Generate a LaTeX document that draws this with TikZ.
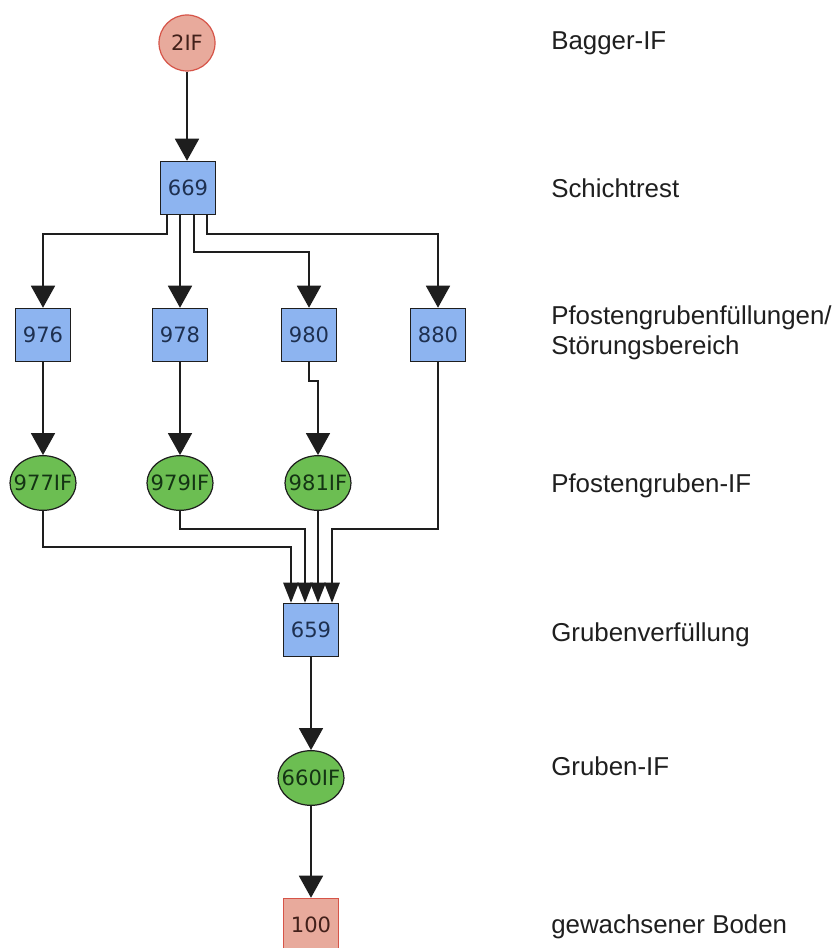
\documentclass[tikz,border=0pt]{standalone}
\usepackage{fontspec}
\setmainfont{Liberation Sans}
\newfontfamily\idfont{DejaVu Sans}
\usepackage{tikz}
\usetikzlibrary{calc,arrows.meta,positioning,shapes.geometric}
\definecolor{unitBlue}{RGB}{141,180,240}
\definecolor{unitBlueText}{RGB}{30,48,80}
\definecolor{ifGreen}{RGB}{108,190,82}
\definecolor{ifGreenText}{RGB}{20,52,20}
\definecolor{soilRed}{RGB}{232,170,156}
\definecolor{soilRedLine}{RGB}{214,84,72}
\definecolor{soilRedText}{RGB}{66,32,26}
\definecolor{edgeGray}{RGB}{30,30,30}
% keep wide ids from blowing up the ellipse size
\newcommand{\clapid}[1]{\makebox[0pt]{#1}}

\begin{document}
\begin{tikzpicture}[x=0.75pt,y=-0.75pt,
  unit/.style={draw=edgeGray, line width=0.9pt, fill=unitBlue, text=unitBlueText,
    minimum width=41.5pt, minimum height=40pt, inner sep=0pt,
    font={\idfont\fontsize{15.8}{17}\selectfont}},
  ifcut/.style={ellipse, draw=edgeGray, line width=0.9pt, fill=ifGreen, text=ifGreenText,
    minimum width=49.5pt, minimum height=41pt, inner sep=0pt,
    font={\idfont\fontsize{15.8}{17}\selectfont}},
  soil/.style={draw=soilRedLine, fill=soilRed, text=soilRedText},
  flow/.style={draw=edgeGray, line width=1.3pt, -{Triangle[width=18pt,length=16.5pt]}},
  merge/.style={flow, -{Triangle[width=11.5pt,length=15pt]}},
  layer/.style={anchor=base west, inner sep=0pt, text=black!88,
    font={\fontsize{19.4}{22.5}\selectfont}}]
\path[use as bounding box, fill=white] (0,0) rectangle (839,948);

% units
\node[unit, soil, circle, minimum size=42pt] (b2IF) at (187,43) {2IF};
\node[unit] (u669) at (188,188) {669};
\foreach \id/\x in {976/43,978/180,980/309,880/438}
{
\node[unit] (u\id) at (\x,335) {\id};
}
\node[ifcut] (f977) at (43,483) {\clapid{977IF}};
\node[ifcut] (f979) at (180,483) {\clapid{979IF}};
\node[ifcut] (f981) at (318,483) {\clapid{981IF}};
\node[unit] (u659) at (311,630) {659};
\node[ifcut] (f660) at (311,778) {\clapid{660IF}};
\node[unit, soil] (u100) at (311,925) {100};

% layer names
\node[layer] (lBagger) at (551,50) {Bagger-IF};
\node[layer] (lSchicht) at (551,198) {Schichtrest};
\node[layer, anchor=west, align=left] (lPfosten) at (551,333) {Pfostengrubenfüllungen/\\Störungsbereich};
\node[layer] (lPfIF) at (551,492) {Pfostengruben-IF};
\node[layer] (lVerf) at (551,641) {Grubenverfüllung};
\node[layer] (lGrIF) at (551,775) {Gruben-IF};
\node[layer] (lBoden) at (551,933) {gewachsener Boden};

% stratigraphic links
\draw[flow] (b2IF.south) -- (b2IF.south |- u669.north);
\draw[flow] ($(u669.south)+(-21,0)$) -- ++(0,19) -| (u976);
\draw[flow] ($(u669.south)+(-8,0)$) -- (u978);
\draw[flow] ($(u669.south)+(6,0)$) -- ++(0,37) -| (u980);
\draw[flow] ($(u669.south)+(19,0)$) -- ++(0,19) -| (u880);
\draw[flow] (u976) -- (f977);
\draw[flow] (u978) -- (f979);
\draw[flow] (u980.south) -- ++(0,19) -| (f981);
\draw[merge] (f977.south) |- ($(u659.north)+(-20,-56)$) -- ($(u659.north)+(-20,0)$);
\draw[merge] (f979.south) |- ($(u659.north)+(-6,-74)$) -- ($(u659.north)+(-6,0)$);
\draw[merge] (f981.south) -- ($(u659.north)+(7,0)$);
\draw[merge] (u880.south) |- ($(u659.north)+(21,-74)$) -- ($(u659.north)+(21,0)$);
\draw[flow] (u659) -- (f660);
\draw[flow] (f660) -- (u100);
\end{tikzpicture}
\end{document}
